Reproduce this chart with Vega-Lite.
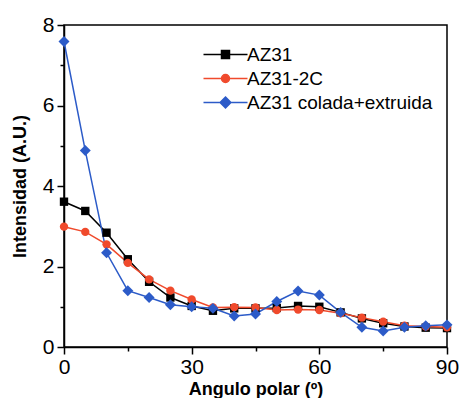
{
  "$schema": "https://vega.github.io/schema/vega-lite/v6.json",
  "autosize": "none",
  "width": 383,
  "height": 322,
  "padding": {"left": 64, "top": 25, "right": 12, "bottom": 51},
  "background": "white",
  "config": {
    "font": "Liberation Sans",
    "view": {"stroke": "black", "strokeWidth": 1.5},
    "axis": {"grid": false, "domainColor": "black", "domainWidth": 1.5, "tickColor": "black", "tickWidth": 1.5, "labelColor": "black", "labelFontSize": 21, "labelFont": "Liberation Sans", "titleFont": "Liberation Sans", "titleFontSize": 18, "titleFontWeight": "bold", "titleColor": "black"}
  },
  "data": {"values": [
    {"angle": 0, "intensity": 3.61, "series": "AZ31"},
    {"angle": 5, "intensity": 3.38, "series": "AZ31"},
    {"angle": 10, "intensity": 2.84, "series": "AZ31"},
    {"angle": 15, "intensity": 2.18, "series": "AZ31"},
    {"angle": 20, "intensity": 1.62, "series": "AZ31"},
    {"angle": 25, "intensity": 1.23, "series": "AZ31"},
    {"angle": 30, "intensity": 1.02, "series": "AZ31"},
    {"angle": 35, "intensity": 0.9, "series": "AZ31"},
    {"angle": 40, "intensity": 0.96, "series": "AZ31"},
    {"angle": 45, "intensity": 0.96, "series": "AZ31"},
    {"angle": 50, "intensity": 0.97, "series": "AZ31"},
    {"angle": 55, "intensity": 1.02, "series": "AZ31"},
    {"angle": 60, "intensity": 1.0, "series": "AZ31"},
    {"angle": 65, "intensity": 0.86, "series": "AZ31"},
    {"angle": 70, "intensity": 0.71, "series": "AZ31"},
    {"angle": 75, "intensity": 0.59, "series": "AZ31"},
    {"angle": 80, "intensity": 0.51, "series": "AZ31"},
    {"angle": 85, "intensity": 0.48, "series": "AZ31"},
    {"angle": 90, "intensity": 0.47, "series": "AZ31"},
    {"angle": 0, "intensity": 2.99, "series": "AZ31-2C"},
    {"angle": 5, "intensity": 2.86, "series": "AZ31-2C"},
    {"angle": 10, "intensity": 2.55, "series": "AZ31-2C"},
    {"angle": 15, "intensity": 2.09, "series": "AZ31-2C"},
    {"angle": 20, "intensity": 1.68, "series": "AZ31-2C"},
    {"angle": 25, "intensity": 1.4, "series": "AZ31-2C"},
    {"angle": 30, "intensity": 1.18, "series": "AZ31-2C"},
    {"angle": 35, "intensity": 0.98, "series": "AZ31-2C"},
    {"angle": 40, "intensity": 0.99, "series": "AZ31-2C"},
    {"angle": 45, "intensity": 0.98, "series": "AZ31-2C"},
    {"angle": 50, "intensity": 0.92, "series": "AZ31-2C"},
    {"angle": 55, "intensity": 0.93, "series": "AZ31-2C"},
    {"angle": 60, "intensity": 0.92, "series": "AZ31-2C"},
    {"angle": 65, "intensity": 0.84, "series": "AZ31-2C"},
    {"angle": 70, "intensity": 0.73, "series": "AZ31-2C"},
    {"angle": 75, "intensity": 0.63, "series": "AZ31-2C"},
    {"angle": 80, "intensity": 0.53, "series": "AZ31-2C"},
    {"angle": 85, "intensity": 0.51, "series": "AZ31-2C"},
    {"angle": 90, "intensity": 0.49, "series": "AZ31-2C"},
    {"angle": 0, "intensity": 7.59, "series": "AZ31 colada+extruida"},
    {"angle": 5, "intensity": 4.88, "series": "AZ31 colada+extruida"},
    {"angle": 10, "intensity": 2.34, "series": "AZ31 colada+extruida"},
    {"angle": 15, "intensity": 1.4, "series": "AZ31 colada+extruida"},
    {"angle": 20, "intensity": 1.23, "series": "AZ31 colada+extruida"},
    {"angle": 25, "intensity": 1.05, "series": "AZ31 colada+extruida"},
    {"angle": 30, "intensity": 1.0, "series": "AZ31 colada+extruida"},
    {"angle": 35, "intensity": 0.96, "series": "AZ31 colada+extruida"},
    {"angle": 40, "intensity": 0.77, "series": "AZ31 colada+extruida"},
    {"angle": 45, "intensity": 0.82, "series": "AZ31 colada+extruida"},
    {"angle": 50, "intensity": 1.13, "series": "AZ31 colada+extruida"},
    {"angle": 55, "intensity": 1.39, "series": "AZ31 colada+extruida"},
    {"angle": 60, "intensity": 1.29, "series": "AZ31 colada+extruida"},
    {"angle": 65, "intensity": 0.86, "series": "AZ31 colada+extruida"},
    {"angle": 70, "intensity": 0.49, "series": "AZ31 colada+extruida"},
    {"angle": 75, "intensity": 0.4, "series": "AZ31 colada+extruida"},
    {"angle": 80, "intensity": 0.49, "series": "AZ31 colada+extruida"},
    {"angle": 85, "intensity": 0.53, "series": "AZ31 colada+extruida"},
    {"angle": 90, "intensity": 0.55, "series": "AZ31 colada+extruida"}
  ]},
  "encoding": {
    "x": {"field": "angle", "type": "quantitative", "scale": {"domain": [0, 90], "nice": false},
      "axis": {"title": "Angulo polar (º)", "values": [0, 15, 30, 45, 60, 75, 90], "labelExpr": "datum.value % 30 === 0 ? datum.label : ''", "tickSize": {"condition": {"test": "datum.value % 30 !== 0", "value": 4}, "value": 7}, "labelPadding": 2, "titlePadding": 3, "labelFlush": false}},
    "y": {"field": "intensity", "type": "quantitative", "scale": {"domain": [0, 8], "nice": false},
      "axis": {"title": "Intensidad (A.U.)", "values": [0, 1, 2, 3, 4, 5, 6, 7, 8], "labelExpr": "datum.value % 2 === 0 ? datum.label : ''", "tickSize": {"condition": {"test": "datum.value % 2 !== 0", "value": 4}, "value": 7}, "labelPadding": 3, "titlePadding": 13, "labelFlush": false}},
    "color": {"field": "series", "type": "nominal", "sort": ["AZ31", "AZ31-2C", "AZ31 colada+extruida"],
      "scale": {"domain": ["AZ31", "AZ31-2C", "AZ31 colada+extruida"], "range": ["#000000", "#f04a2c", "#2c5bc8"]},
      "legend": {"title": null, "orient": "none", "legendX": 152, "legendY": 20, "labelFontSize": 19, "labelColor": "black", "labelFont": "Liberation Sans", "labelLimit": 0, "labelOffset": 12, "rowPadding": 4, "symbolSize": 64, "symbolStrokeWidth": 1.5,
        "encode": {"symbols": {"update": {
          "shape": {"signal": "datum.value === 'AZ31' ? 'M-5.5,0H5.5M-1,-1H1V1H-1Z' : datum.value === 'AZ31-2C' ? 'M-5.5,0H5.5M-1,0A1,1,0,1,0,1,0A1,1,0,1,0,-1,0Z' : 'M-5.5,0H5.5M0,-1.35L1.35,0L0,1.35L-1.35,0Z'"},
          "fill": {"scale": "color", "field": "value"},
          "stroke": {"scale": "color", "field": "value"},
          "strokeWidth": {"value": 1.5},
          "opacity": {"value": 1}
        }}}}}
  },
  "layer": [
    {"mark": {"type": "line", "strokeWidth": 1.5}, "encoding": {"detail": {"field": "series"}}},
    {"transform": [{"filter": "datum.series === 'AZ31'"}], "mark": {"type": "point", "filled": true, "opacity": 1, "shape": "square", "size": 70}},
    {"transform": [{"filter": "datum.series === 'AZ31-2C'"}], "mark": {"type": "point", "filled": true, "opacity": 1, "shape": "circle", "size": 70}},
    {"transform": [{"filter": "datum.series === 'AZ31 colada+extruida'"}], "mark": {"type": "point", "filled": true, "opacity": 1, "shape": "diamond", "size": 120}}
  ]
}
